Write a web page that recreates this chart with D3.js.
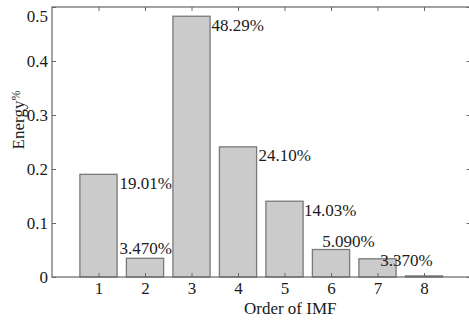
<!DOCTYPE html>
<html>
<head>
<meta charset="utf-8">
<script src="https://cdn.jsdelivr.net/npm/d3@7"></script>
<style>
body { margin: 0; background: #fff; }
text { font-family: "Liberation Serif", "Times New Roman", serif; fill: #1a1a1a; }
</style>
</head>
<body>
<div id="grafico"></div>
<script>
// dados
var imf = [1, 2, 3, 4, 5, 6, 7, 8];
var energia = [0.1901, 0.0347, 0.4829, 0.2410, 0.1403, 0.0509, 0.0337, 0.002];
var rotulos = ["19.01%", "3.470%", "48.29%", "24.10%", "14.03%", "5.090%", "3.370%", ""];
// posicao dos rotulos em unidades dos dados (como text(x,y) do matlab)
var rotulo_x = [1.45, 1.45, 3.43, 4.44, 5.42, 5.81, 7.06, 8];
var rotulo_y = [0.174, 0.054, 0.467, 0.226, 0.124, 0.067, 0.031, 0];
var y_ticks = [0, 0.1, 0.2, 0.3, 0.4, 0.5];

var width = 469, height = 322;
var esq = 52, dir = 470.5, topo = 7, base = 277;

var svg = d3.select("#grafico")
            .append("svg")
            .attr("width", width)
            .attr("height", height);

var x = d3.scaleLinear().domain([0, 9]).range([esq, dir]);
var y = d3.scaleLinear().domain([0, 0.5]).range([base, topo]);
var largura = (x(1) - x(0)) * 0.8;

// barras
svg.append("g")
    .selectAll("rect")
    .data(energia)
    .enter()
    .append("rect")
    .attr("x", function(d, i){ return x(imf[i]) - largura / 2; })
    .attr("y", function(d){ return y(d); })
    .attr("width", largura)
    .attr("height", function(d){ return base - y(d); })
    .style("fill", "#cbcbcb")
    .style("stroke", "#7a7a7a")
    .style("stroke-width", 1.3);

// caixa dos eixos
svg.append("rect")
    .attr("x", esq)
    .attr("y", topo)
    .attr("width", dir - esq)
    .attr("height", base - topo)
    .style("fill", "none")
    .style("stroke", "#666")
    .style("stroke-width", 1.2);

var eixoX = d3.axisBottom(x).tickValues(imf).tickSize(-4).tickPadding(5);
var eixoY = d3.axisLeft(y).tickValues(y_ticks).tickSize(-4).tickPadding(4)
              .tickFormat(function(d){ return d === 0 ? "0" : d3.format(".1f")(d); });

var gx = svg.append("g")
    .attr("transform", "translate(0," + base + ")")
    .call(eixoX);

var gy = svg.append("g")
    .attr("transform", "translate(" + esq + ",0)")
    .call(eixoY);

// ticks do topo e da direita
svg.append("g")
    .attr("transform", "translate(0," + topo + ")")
    .call(d3.axisTop(x).tickValues(imf).tickSize(-4).tickFormat(""));
svg.append("g")
    .attr("transform", "translate(" + dir + ",0)")
    .call(d3.axisRight(y).tickValues(y_ticks).tickSize(-4).tickFormat(""));

svg.selectAll(".domain").remove();
svg.selectAll(".tick line").style("stroke", "#666");
svg.selectAll(".tick text")
    .style("font-size", "17px")
    .style("fill", "#1a1a1a");

// o rotulo 0.5 fica um pouco abaixo na figura
gy.selectAll(".tick text")
    .filter(function(d){ return d === 0.5; })
    .attr("dy", "0.85em");

// rotulos das barras
svg.append("g")
    .selectAll("text")
    .data(rotulos)
    .enter()
    .append("text")
    .attr("x", function(d, i){ return x(rotulo_x[i]); })
    .attr("y", function(d, i){ return y(rotulo_y[i]); })
    .attr("dy", "0.35em")
    .style("font-size", "17px")
    .text(function(d){ return d; });

// titulos dos eixos
svg.append("text")
    .attr("x", (esq + dir) / 2 + 29)
    .attr("y", 314)
    .attr("text-anchor", "middle")
    .style("font-size", "17px")
    .text("Order of IMF");

var ty = svg.append("text")
    .attr("transform", "translate(24,120) rotate(-90)")
    .attr("text-anchor", "middle")
    .style("font-size", "17px");
ty.append("tspan").text("Energy");
ty.append("tspan").style("font-size", "12px").attr("dy", "-4").text("%");
</script>
</body>
</html>
